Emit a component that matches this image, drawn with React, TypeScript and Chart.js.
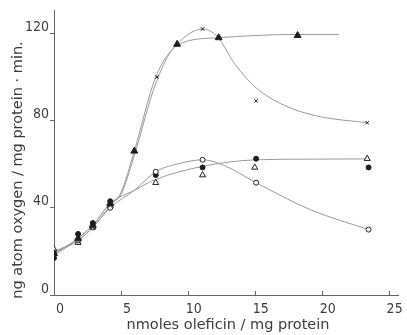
import React, { useEffect, useRef } from "react";
import { Chart, registerables } from "chart.js";

Chart.register(...registerables);

// Measured points (x = nmoles oleficin / mg protein, y = ng atom O / mg protein·min)
const crossX = [0, 1.8, 2.9, 4.2, 7.7, 11.1, 15.1, 23.4];
const crossY = [20, 25, 31, 41, 100, 122, 89, 79];
const triFilledX = [0, 1.8, 2.9, 4.2, 6.0, 9.2, 12.3, 18.2];
const triFilledY = [19, 26, 32, 42, 66, 115, 118, 119];
const circOpenX = [0, 1.8, 2.9, 4.2, 7.6, 11.1, 15.1, 23.5];
const circOpenY = [19, 25, 31, 40, 56.5, 62, 51.5, 30];
const circFilledX = [0, 1.8, 2.9, 4.2, 7.6, 11.1, 15.1, 23.5];
const circFilledY = [17, 28, 33, 43, 55, 58.5, 62.5, 58.5];
const triOpenX = [0, 1.8, 2.9, 4.2, 7.6, 11.1, 15.0, 23.4];
const triOpenY = [21, 24, 31, 41, 51.5, 55, 58.5, 62.5];

// Hand-drawn fitted curves (knots)
const curveCrossX = [0, 1.8, 2.9, 4.2, 5, 6, 7.6, 9.2, 11.1, 12.2, 13.5, 15.1, 17.2, 19.7, 23.4];
const curveCrossY = [20, 25, 31, 41, 47, 66, 100, 115, 122, 118.5, 106, 95, 87, 82, 79];
const curveTriX = [0, 1.8, 2.9, 4.2, 5, 6, 7.6, 9.2, 12.3, 15, 18.2, 21.3];
const curveTriY = [19, 26, 32, 42, 46, 64, 97, 114.5, 118, 119, 119.5, 119.5];
const curveOpenX = [0, 1.8, 2.9, 4.2, 6, 7.6, 9.5, 11.1, 12.5, 15.1, 19.2, 23.5];
const curveOpenY = [19, 25, 31, 40, 48, 56.5, 60.5, 62, 60, 51.5, 39, 30];
const curveFilledX = [0, 1.8, 2.9, 4.2, 6, 7.6, 11.1, 15.1, 19, 23.5];
const curveFilledY = [18, 26, 32, 42, 48, 53, 59, 62, 62.3, 62.4];

const xTicks = [0, 5, 10, 15, 20, 25];
const yTicks = [0, 40, 80, 120];
const xTitle = "nmoles oleficin / mg protein";
const yTitle = "ng atom oxygen / mg protein · min.";

const FONT = "'DejaVu Sans Condensed', 'DejaVu Sans', sans-serif";
const TITLE_FONT = "'DejaVu Sans', sans-serif";
const TEXT = "#3c3c3c";
const AXIS = "#666";
const CURVE = "#9a9a9a";
const MARK = "#1e1e1e";

const pts = (xs: number[], ys: number[]) => xs.map((x, i) => ({ x, y: ys[i] }));

const decorPlugin = {
  id: "decor",
  afterDraw(chart: any) {
    const { ctx, scales } = chart;
    const xs = scales.x;
    const ys = scales.y;
    ctx.save();
    ctx.strokeStyle = AXIS;
    ctx.lineWidth = 1;
    const base = ys.getPixelForValue(0);
    xTicks.forEach((v) => {
      const px = Math.round(xs.getPixelForValue(v)) + 0.5;
      ctx.beginPath();
      ctx.moveTo(px, base);
      ctx.lineTo(px, base - 4);
      ctx.stroke();
    });
    ctx.fillStyle = TEXT;
    ctx.font = `14.5px ${TITLE_FONT}`;
    ctx.textAlign = "center";
    ctx.textBaseline = "middle";
    ctx.fillText(xTitle, 228, 325);
    ctx.translate(18, 170);
    ctx.rotate(-Math.PI / 2);
    ctx.fillText(yTitle, 0, 0);
    ctx.restore();
  },
};

export default function App() {
  const ref = useRef<HTMLCanvasElement>(null);
  useEffect(() => {
    if (!ref.current) return;
    const curve = (xs: number[], ys: number[]) => ({
      data: pts(xs, ys),
      showLine: true,
      borderColor: CURVE,
      borderWidth: 1,
      pointRadius: 0,
      cubicInterpolationMode: "monotone" as const,
      order: 2,
    });
    const chart = new Chart(ref.current, {
      type: "scatter",
      data: {
        datasets: [
          {
            data: pts(crossX, crossY),
            pointStyle: "crossRot",
            pointRadius: 2.5,
            borderColor: MARK,
            borderWidth: 1,
            order: 0,
          },
          {
            data: pts(triFilledX, triFilledY),
            pointStyle: "triangle",
            pointRadius: 4,
            backgroundColor: MARK,
            borderColor: MARK,
            borderWidth: 1,
            order: 0,
          },
          {
            data: pts(circOpenX, circOpenY),
            pointStyle: "circle",
            pointRadius: 2.5,
            backgroundColor: "#fff",
            borderColor: MARK,
            borderWidth: 1,
            order: 0,
          },
          {
            data: pts(circFilledX, circFilledY),
            pointStyle: "circle",
            pointRadius: 2.5,
            backgroundColor: MARK,
            borderColor: MARK,
            borderWidth: 1,
            order: 0,
          },
          {
            data: pts(triOpenX, triOpenY),
            pointStyle: "triangle",
            pointRadius: 3.5,
            backgroundColor: "#fff",
            borderColor: MARK,
            borderWidth: 1,
            order: 0,
          },
          curve(curveCrossX, curveCrossY),
          curve(curveTriX, curveTriY),
          curve(curveOpenX, curveOpenY),
          curve(curveFilledX, curveFilledY),
        ],
      },
      options: {
        responsive: false,
        animation: false,
        layout: { padding: { left: 0, right: 9, top: 10, bottom: 0 } },
        plugins: { legend: { display: false }, tooltip: { enabled: false } },
        scales: {
          x: {
            type: "linear",
            min: 0,
            max: 25.7,
            afterBuildTicks: (s: any) => {
              s.ticks = xTicks.map((v) => ({ value: v }));
            },
            afterFit: (s: any) => {
              s.height = 40;
            },
            grid: { display: false },
            border: { display: true, color: AXIS, width: 1 },
            ticks: {
              color: TEXT,
              font: { family: FONT, size: 14 },
              padding: -2,
              labelOffset: 6,
              maxRotation: 0,
            },
          },
          y: {
            type: "linear",
            min: 0,
            max: 130.7,
            afterBuildTicks: (s: any) => {
              s.ticks = yTicks.map((v) => ({ value: v }));
            },
            afterFit: (s: any) => {
              s.width = 54;
            },
            grid: {
              display: true,
              drawOnChartArea: false,
              drawTicks: true,
              tickLength: 4,
              color: AXIS,
            },
            border: { display: true, color: AXIS, width: 1 },
            ticks: {
              color: TEXT,
              font: { family: FONT, size: 14 },
              padding: 1,
              labelOffset: -6,
            },
          },
        },
      },
      plugins: [decorPlugin],
    });
    return () => chart.destroy();
  }, []);
  return (
    <div style={{ position: "absolute", left: 0, top: 0, width: 407, height: 335, background: "#fff" }}>
      <canvas ref={ref} width={407} height={335} />
    </div>
  );
}
